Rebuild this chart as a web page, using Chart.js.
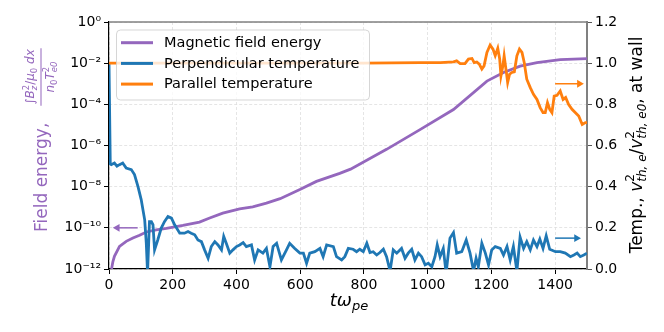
<!DOCTYPE html>
<html>
<head>
<meta charset="utf-8">
<script src="https://cdn.jsdelivr.net/npm/chart.js@4.4.1/dist/chart.umd.min.js"></script>
<style>
  html, body { margin: 0; padding: 0; background: #fff; }
</style>
</head>
<body>
<canvas id="myChart" width="664" height="332"></canvas>
<script>
// values
const timeMag = [8, 12, 17, 33, 54, 75, 96, 117, 148, 180, 232, 284, 316, 357, 410, 451, 494, 537, 599, 651,
  724, 758, 871, 976, 1081, 1186, 1238, 1290, 1343, 1416, 1500];
const magEnergy = [1e-12, 2.2e-12, 4.1e-12, 1.26e-11, 2.2e-11, 3.2e-11, 4.4e-11, 6.3e-11, 7.9e-11, 9.3e-11,
  1.3e-10, 1.9e-10, 3.0e-10, 5.2e-10, 8.3e-10, 1.05e-9, 1.6e-9, 2.6e-9, 7.2e-9, 1.8e-8,
  4.4e-8, 7.1e-8, 6.5e-7, 5.9e-6, 5.6e-5, 1.35e-3, 3.5e-3, 7.2e-3, 1.05e-2, 1.5e-2, 1.66e-2];

const timePerp = [0, 4, 7, 17, 25, 33, 43, 54, 70, 80, 91, 101, 112, 117, 121, 127, 133, 138, 143, 153,
  164, 174, 185, 196, 206, 222, 237, 248, 258, 269, 279, 290, 300, 311, 321, 332, 342, 353, 360, 368,
  379, 389, 400, 410, 421, 431, 447, 457, 468, 483, 494, 505, 515, 526, 541, 557, 567, 583, 599, 610,
  620, 630, 646, 662, 672, 683, 704, 714, 730, 740, 751, 766, 777, 787, 798, 809, 819, 829, 840, 850,
  861, 871, 882, 892, 903, 918, 929, 939, 950, 960, 971, 981, 992, 1002, 1013, 1023, 1030, 1039, 1049, 1058,
  1070, 1081, 1091, 1107, 1121, 1133, 1144, 1152, 1159, 1170, 1181, 1191, 1201, 1212, 1228, 1238, 1249, 1259, 1269, 1280,
  1290, 1301, 1311, 1322, 1332, 1343, 1352, 1362, 1372, 1383, 1401, 1416, 1432, 1448, 1459, 1469, 1479, 1490, 1500];
const perpTemp = [1.0, 0.51, 0.507, 0.515, 0.50, 0.507, 0.515, 0.49, 0.483, 0.459, 0.40, 0.337, 0.239, 0.125, -0.02, 0.23, 0.23, 0.215, 0.093, 0.141,
  0.199, 0.23, 0.255, 0.247, 0.215, 0.174, 0.174, 0.182, 0.174, 0.166, 0.141, 0.133, 0.093, 0.052, 0.109, 0.133, 0.117, 0.093, 0.158, 0.125,
  0.077, 0.093, 0.109, 0.117, 0.128, 0.109, 0.117, 0.044, 0.093, 0.077, 0.10, 0.011, 0.109, 0.125, 0.044, 0.093, 0.125, 0.10, 0.077, 0.077,
  0.028, 0.077, 0.084, 0.10, 0.06, 0.117, 0.109, 0.06, 0.044, 0.06, 0.10, 0.096, 0.084, 0.096, 0.084, 0.125, 0.08, 0.084, 0.068, 0.08,
  0.096, 0.06, -0.01, 0.093, 0.077, 0.10, 0.052, 0.077, 0.096, 0.044, 0.077, 0.06, 0.02, 0.028, 0.011, 0.06, 0.117, 0.06, 0.10, -0.02,
  0.15, 0.177, 0.077, 0.084, 0.141, 0.077, -0.01, 0.052, 0.011, 0.125, 0.077, 0.02, 0.093, 0.109, 0.10, 0.068, 0.109, 0.044, 0.109, -0.01,
  0.155, 0.10, 0.133, 0.093, 0.141, 0.109, 0.145, 0.10, 0.161, 0.096, 0.084, 0.084, 0.077, 0.06, 0.068, 0.077, 0.06, 0.068, 0.077];

const timePar = [0, 200, 400, 600, 800, 976, 1040, 1081, 1091, 1102, 1117, 1128, 1139, 1146, 1154, 1162, 1170, 1177, 1186, 1196,
  1205, 1212, 1220, 1226, 1230, 1236, 1240, 1247, 1251, 1257, 1264, 1272, 1280, 1288, 1296, 1303, 1311, 1322, 1332, 1343,
  1353, 1362, 1369, 1376, 1383, 1390, 1397, 1406, 1416, 1425, 1433, 1442, 1453, 1463, 1474, 1485, 1495, 1500];
const parTemp = [1.0, 1.0, 1.0, 1.0, 1.0, 1.003, 1.003, 1.006, 1.011, 0.998, 0.998, 1.02, 1.023, 1.003, 1.006, 0.995, 0.971, 0.987, 1.052, 1.088,
  1.068, 1.036, 1.072, 1.02, 0.938, 0.987, 1.036, 0.955, 0.906, 0.946, 0.955, 0.958, 1.036, 1.068, 1.052, 1.003, 0.922, 0.881, 0.849, 0.824,
  0.784, 0.76, 0.76, 0.808, 0.776, 0.76, 0.84, 0.844, 0.865, 0.824, 0.833, 0.80, 0.776, 0.76, 0.743, 0.702, 0.711, 0.711];

// arrows: [tail, head]
const magArrowX = [90, 26], magArrowY = [1e-10, 1e-10];
const perpArrowX = [1400, 1467], perpArrowY = [0.15, 0.15];
const parArrowX = [1400, 1476], parArrowY = [0.9, 0.9];

const xTicks = [0, 200, 400, 600, 800, 1000, 1200, 1400];
const leftTicks = [1e-12, 1e-10, 1e-8, 1e-6, 1e-4, 1e-2, 1];
const leftTickLabels = ["10⁻¹²", "10⁻¹⁰", "10⁻⁸", "10⁻⁶", "10⁻⁴", "10⁻²", "10⁰"];
const rightTicks = [0, 0.2, 0.4, 0.6, 0.8, 1.0, 1.2];
const rightTickLabels = ["0.0", "0.2", "0.4", "0.6", "0.8", "1.0", "1.2"];

const legendLabels = ["Magnetic field energy", "Perpendicular temperature", "Parallel temperature"];

const PURPLE = "#9467bd", BLUE = "#1f77b4", ORANGE = "#ff7f0e";
const FONT = "'DejaVu Sans', sans-serif";

const pts = (xs, ys) => xs.map((x, i) => ({ x: x, y: ys[i] }));

function arrow(xs, ys, color, axis, rot) {
  return {
    data: pts(xs, ys),
    yAxisID: axis,
    borderColor: color,
    backgroundColor: color,
    borderWidth: 1.5,
    pointRadius: [0, 4.5],
    pointStyle: "triangle",
    rotation: [0, rot],
    pointBorderWidth: 0,
    order: 0,
  };
}

// mathtext-ish drawing: parts are {t, s, dy, it, stack}
function richRun(ctx, parts, x, y, draw) {
  let cx = x, prev = x;
  for (const p of parts) {
    ctx.font = (p.it ? "italic " : "") + p.s + "px " + FONT;
    const px = p.stack ? prev : cx;
    if (draw) ctx.fillText(p.t, px, y + (p.dy || 0));
    cx = Math.max(cx, px + ctx.measureText(p.t).width);
    prev = px;
  }
  return cx - x;
}

const titlesPlugin = {
  id: "titles",
  afterDraw(chart) {
    const ctx = chart.ctx;
    const area = chart.chartArea;
    ctx.save();
    // top spine
    ctx.strokeStyle = "#808080";
    ctx.lineWidth = 1.5;
    ctx.beginPath();
    ctx.moveTo(area.left, area.top);
    ctx.lineTo(area.right, area.top);
    ctx.stroke();

    ctx.textBaseline = "alphabetic";
    ctx.textAlign = "left";

    // x title
    ctx.fillStyle = "#000";
    const xt = [
      { t: "tω", s: 18, it: true },
      { t: "pe", s: 13, dy: 4, it: true },
    ];
    const xw = richRun(ctx, xt, 0, 0, false);
    richRun(ctx, xt, 349 - xw / 2, 306, true);

    // left title
    ctx.save();
    ctx.translate(47, 232);
    ctx.rotate(-Math.PI / 2);
    ctx.fillStyle = PURPLE;
    ctx.font = "17px " + FONT;
    ctx.fillText("Field energy,", 0, 0);
    const num = [
      { t: "∫", s: 12 }, { t: "B", s: 12, it: true },
      { t: "2", s: 8.5, dy: -5 }, { t: "z", s: 8.5, dy: 3, it: true, stack: true },
      { t: "/", s: 12 }, { t: "μ", s: 12, it: true }, { t: "0", s: 8.5, dy: 3 },
      { t: " dx", s: 12, it: true },
    ];
    const den = [
      { t: "n", s: 12, it: true }, { t: "0", s: 8.5, dy: 3 },
      { t: "T", s: 12, it: true }, { t: "2", s: 8.5, dy: -5 },
      { t: "e0", s: 8.5, dy: 3, it: true, stack: true },
    ];
    const nw = richRun(ctx, num, 0, 0, false);
    const dw = richRun(ctx, den, 0, 0, false);
    const fc = 155;
    richRun(ctx, num, fc - nw / 2, -13.5, true);
    richRun(ctx, den, fc - dw / 2, 7, true);
    ctx.fillRect(fc - Math.max(nw, dw) / 2 - 1, -6.5, Math.max(nw, dw) + 2, 1);
    ctx.restore();

    // right title
    const rt = [
      { t: "Temp., ", s: 17 },
      { t: "v", s: 17, it: true },
      { t: "2", s: 12, dy: -8 }, { t: "th, e", s: 12, dy: 4, it: true, stack: true },
      { t: "/", s: 17 },
      { t: "v", s: 17, it: true },
      { t: "2", s: 12, dy: -8 }, { t: "th, e0", s: 12, dy: 4, it: true, stack: true },
      { t: ", at wall", s: 17 },
    ];
    const rw = richRun(ctx, rt, 0, 0, false);
    ctx.save();
    ctx.translate(642, 145 + rw / 2);
    ctx.rotate(-Math.PI / 2);
    ctx.fillStyle = "#000";
    richRun(ctx, rt, 0, 0, true);
    ctx.restore();
    ctx.restore();
  },
  afterDatasetsDraw(chart) {
    // legend box
    const ctx = chart.ctx;
    ctx.save();
    const bx = 116.5, by = 30, bw = 253, bh = 70, r = 4;
    ctx.beginPath();
    ctx.moveTo(bx + r, by);
    ctx.arcTo(bx + bw, by, bx + bw, by + bh, r);
    ctx.arcTo(bx + bw, by + bh, bx, by + bh, r);
    ctx.arcTo(bx, by + bh, bx, by, r);
    ctx.arcTo(bx, by, bx + bw, by, r);
    ctx.closePath();
    ctx.fillStyle = "rgba(255,255,255,0.8)";
    ctx.fill();
    ctx.strokeStyle = "rgba(204,204,204,0.8)";
    ctx.lineWidth = 1;
    ctx.stroke();
    const colors = [PURPLE, BLUE, ORANGE];
    ctx.font = "14.5px " + FONT;
    ctx.textBaseline = "middle";
    ctx.fillStyle = "#000";
    legendLabels.forEach((lab, i) => {
      const y = 42.7 + i * 20.7;
      ctx.strokeStyle = colors[i];
      ctx.lineWidth = 3;
      ctx.beginPath();
      ctx.moveTo(121, y);
      ctx.lineTo(153, y);
      ctx.stroke();
      ctx.fillText(lab, 164, y + 0.5);
    });
    ctx.restore();
  },
};

const config = {
  type: "line",
  data: {
    datasets: [
      { data: pts(timeMag, magEnergy), yAxisID: "y", borderColor: PURPLE, backgroundColor: PURPLE, borderWidth: 2.8, order: 3 },
      { data: pts(timePerp, perpTemp), yAxisID: "y1", borderColor: BLUE, backgroundColor: BLUE, borderWidth: 2.8, order: 2 },
      { data: pts(timePar, parTemp), yAxisID: "y1", borderColor: ORANGE, backgroundColor: ORANGE, borderWidth: 2.8, order: 1 },
      arrow(magArrowX, magArrowY, PURPLE, "y", -90),
      arrow(perpArrowX, perpArrowY, BLUE, "y1", 90),
      arrow(parArrowX, parArrowY, ORANGE, "y1", 90),
    ],
  },
  options: {
    responsive: false,
    animation: false,
    layout: { padding: { top: 22, left: 0, right: 0, bottom: 0 } },
    elements: {
      point: { radius: 0 },
      line: { tension: 0 },
    },
    plugins: {
      legend: { display: false },
      tooltip: { enabled: false },
    },
    scales: {
      x: {
        type: "linear",
        position: "bottom",
        min: 0,
        max: 1500,
        afterBuildTicks: (s) => { s.ticks = xTicks.map((v) => ({ value: v })); },
        afterFit: (s) => { s.height = 63; },
        ticks: {
          color: "#000",
          padding: 3,
          maxRotation: 0,
          font: { family: FONT, size: 14 },
          callback: (v) => String(v),
        },
        grid: { color: "#dedede", lineWidth: 0.8, tickColor: "#000", tickLength: 5, tickWidth: 1 },
        border: { color: "#000", width: 1.2, dash: [3, 2] },
      },
      y: {
        type: "logarithmic",
        position: "left",
        min: 1e-12,
        max: 1,
        afterBuildTicks: (s) => { s.ticks = leftTicks.map((v) => ({ value: v, major: true })); },
        afterFit: (s) => { s.width = 109; },
        ticks: {
          color: "#000",
          padding: 3,
          font: { family: FONT, size: 14 },
          callback: (v, i) => leftTickLabels[i],
        },
        grid: { color: "#dedede", lineWidth: 0.8, tickColor: "#000", tickLength: 5, tickWidth: 1 },
        border: { color: "#000", width: 1.2, dash: [3, 2] },
      },
      y1: {
        type: "linear",
        position: "right",
        min: 0,
        max: 1.2,
        afterBuildTicks: (s) => { s.ticks = rightTicks.map((v) => ({ value: v })); },
        afterFit: (s) => { s.width = 77; },
        ticks: {
          color: "#000",
          padding: 3,
          font: { family: FONT, size: 14 },
          callback: (v, i) => rightTickLabels[i],
        },
        grid: { drawOnChartArea: false, tickColor: "#555", tickLength: 5, tickWidth: 1 },
        border: { color: "#808080", width: 2 },
      },
    },
  },
  plugins: [titlesPlugin],
};

new Chart(document.getElementById("myChart"), config);
</script>
</body>
</html>
